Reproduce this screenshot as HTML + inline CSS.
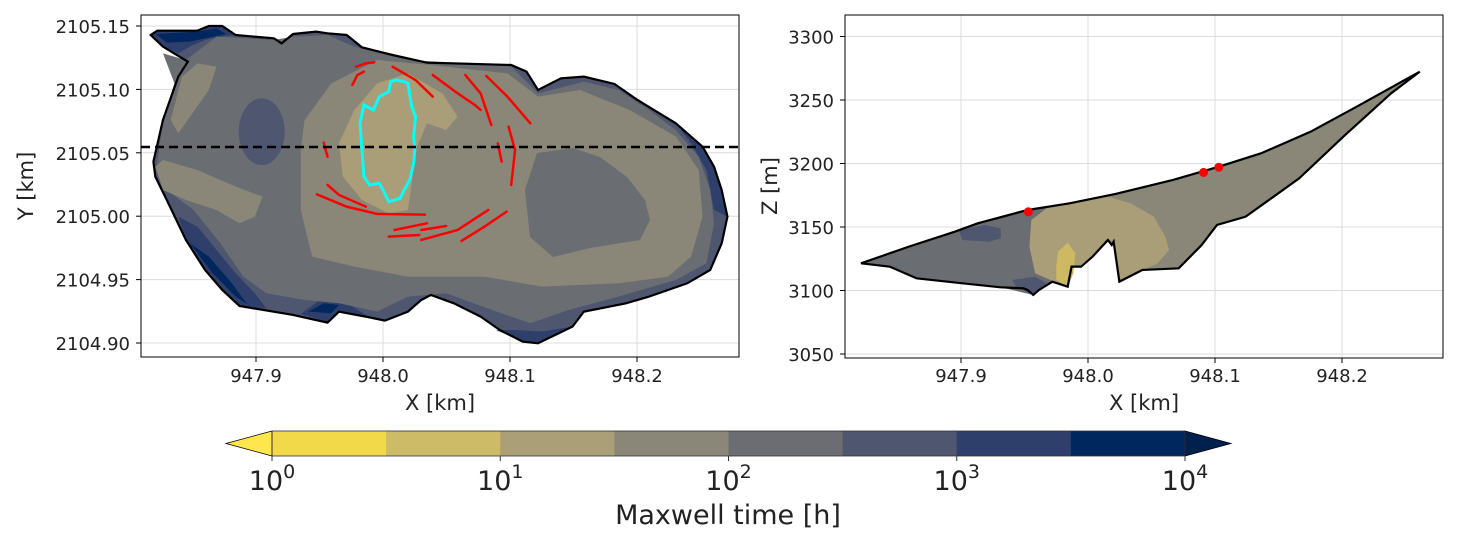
<!DOCTYPE html>
<html><head><meta charset="utf-8"><style>
html,body{margin:0;padding:0;background:#fff;}
svg{display:block;font-family:"DejaVu Sans","Liberation Sans",sans-serif;}
</style></head><body>
<svg id="fig" width="1460" height="543" viewBox="0 0 1460 543" xmlns="http://www.w3.org/2000/svg">
<defs>
<clipPath id="clipL"><rect x="141" y="15" width="598" height="342"/></clipPath>
<clipPath id="clipR"><rect x="845" y="15" width="598" height="343"/></clipPath>
</defs>
<g id="gridL"></g>
<g id="gridR"></g>

<g clip-path="url(#clipL)">
<g transform="translate(140,10) scale(0.3827,0.3333)">
<polygon fill="#4f5670" points="28,75 45,62 150,62 180,48 215,48 250,75 350,85 370,100 400,72 460,65 490,70 540,75 580,112 660,135 750,158 970,165 1010,185 1040,240 1100,205 1160,200 1240,222 1300,270 1400,340 1470,410 1500,470 1520,540 1535,620 1520,700 1490,780 1430,820 1330,860 1270,880 1160,905 1130,950 1040,1000 1000,995 940,960 890,920 820,880 760,855 735,870 700,905 640,932 590,920 520,905 490,938 400,915 260,888 215,840 170,780 120,690 70,570 40,500 35,455 60,330 100,200 125,155 60,110"/>
<polygon fill="#2f3f6c" points="120,690 170,780 215,840 260,888 330,895 300,850 250,790 200,720 150,650 100,620"/>
<polygon fill="#2f3f6c" points="28,75 45,62 150,62 180,48 215,48 250,75 210,80 170,90 130,110 100,130 60,110"/>
<polygon fill="#2f3f6c" points="1400,340 1470,410 1500,470 1520,540 1535,620 1500,600 1480,480 1440,400"/>
<polygon fill="#2f3f6c" points="930,960 1000,995 1040,1000 1130,950 1050,965 980,960"/>
<polygon fill="#2f3f6c" points="420,912 470,870 530,870 590,915 520,905 490,935"/>
<polygon fill="#00285f" points="130,700 190,790 250,860 280,882 240,820 180,740"/>
<polygon fill="#00285f" points="40,72 150,65 200,55 225,72 130,95 70,98"/>
<polygon fill="#00285f" points="440,905 480,880 520,885 500,910"/>
<polygon fill="#6a6d72" points="60,130 120,150 200,80 350,90 400,80 490,75 560,110 700,150 970,170 1040,250 1160,215 1250,240 1330,300 1400,360 1460,440 1490,540 1500,640 1480,760 1400,810 1250,860 1120,900 1020,940 920,900 800,850 700,860 620,905 520,880 430,870 330,850 270,800 210,700 140,600 70,540 45,460 60,330 90,220"/>
<ellipse fill="#4f5670" cx="318" cy="365" rx="60" ry="100"/>
<polygon fill="#8a8779" points="110,200 150,160 200,170 180,240 100,370 80,330"/>
<polygon fill="#8a8779" points="40,470 60,450 150,480 250,530 320,560 300,620 260,640 200,600 120,570 60,540"/>
<polygon fill="#8a8779" points="430,330 500,220 620,150 760,165 960,190 1040,260 1150,240 1280,300 1400,380 1460,480 1470,620 1440,740 1380,800 1250,820 1050,830 900,800 700,800 560,770 450,740 420,600 420,420"/>
<polygon fill="#a99e78" points="520,400 560,300 620,220 700,190 790,250 830,320 800,360 750,340 720,420 710,520 700,600 650,610 580,570 530,500"/>
<g fill="none" stroke="#ff0000" stroke-width="2.5" stroke-linecap="round">
<polyline vector-effect="non-scaling-stroke" points="555,225 568,195 585,185"/>
<polyline vector-effect="non-scaling-stroke" points="565,170 590,160 612,157"/>
<polyline vector-effect="non-scaling-stroke" points="660,170 720,210 765,260"/>
<polyline vector-effect="non-scaling-stroke" points="765,195 830,250 875,285 890,300"/>
<polyline vector-effect="non-scaling-stroke" points="850,195 890,250 918,345"/>
<polyline vector-effect="non-scaling-stroke" points="905,198 960,260 1020,340"/>
<polyline vector-effect="non-scaling-stroke" points="963,350 980,420 970,525"/>
<polyline vector-effect="non-scaling-stroke" points="935,400 945,455"/>
<polyline vector-effect="non-scaling-stroke" points="480,398 490,440"/>
<polyline vector-effect="non-scaling-stroke" points="490,525 520,555 590,590"/>
<polyline vector-effect="non-scaling-stroke" points="462,553 540,590 620,612 745,614"/>
<polyline vector-effect="non-scaling-stroke" points="665,660 750,640"/>
<polyline vector-effect="non-scaling-stroke" points="650,680 730,675"/>
<polyline vector-effect="non-scaling-stroke" points="735,660 800,648"/>
<polyline vector-effect="non-scaling-stroke" points="735,690 830,660 910,600"/>
<polyline vector-effect="non-scaling-stroke" points="840,693 900,650 958,605"/>
</g>
<polygon fill="none" stroke="#00ffff" stroke-width="3" vector-effect="non-scaling-stroke" points="585,285 610,300 625,260 650,245 655,215 670,210 690,215 700,220 710,290 720,320 715,380 718,420 715,460 705,510 690,540 680,565 650,575 635,540 625,520 600,525 585,500 580,420 575,340"/>
<polygon fill="none" stroke="#000" stroke-width="2.2" vector-effect="non-scaling-stroke" points="28,75 45,62 150,62 180,48 215,48 250,75 350,85 370,100 400,72 460,65 490,70 540,75 580,112 660,135 750,158 970,165 1010,185 1040,240 1100,205 1160,200 1240,222 1300,270 1400,340 1470,410 1500,470 1520,540 1535,620 1520,700 1490,780 1430,820 1330,860 1270,880 1160,905 1130,950 1040,1000 1000,995 940,960 890,920 820,880 760,855 735,870 700,905 640,932 590,920 520,905 490,938 400,915 260,888 215,840 170,780 120,690 70,570 40,500 35,455 60,330 100,200 125,155 60,110"/>
</g>
<polygon fill="#6a6d72" points="525,190 537,153 573,148 600,157 627,177 645,200 650,220 640,240 590,248 553,257 530,237"/>
<line x1="141" y1="147" x2="739" y2="147" stroke="#000" stroke-width="2.5" stroke-dasharray="9,5"/>
</g>

<g clip-path="url(#clipR)">
<g transform="translate(840,60) scale(0.3827,0.3333)">
<polygon fill="#8a8779" points="55,610 180,560 300,515 360,490 490,450 600,430 720,402 870,360 990,320 1100,280 1230,215 1350,140 1515,35 1440,100 1320,225 1200,355 1060,470 985,495 945,555 885,625 790,630 730,665 715,545 710,555 700,540 660,590 630,620 605,620 595,680 555,665 520,690 505,705 490,690 480,685 420,682 320,670 200,655 130,620"/>
<polygon fill="#6a6d72" points="55,610 180,560 300,515 360,490 490,450 540,445 500,480 495,560 510,640 560,665 520,690 505,705 420,682 320,670 200,655 130,620"/>
<polygon fill="#a99e78" points="500,480 540,445 700,410 760,430 820,470 850,530 860,570 830,610 790,630 730,665 715,545 700,540 660,590 630,620 605,620 595,680 560,665 510,640 495,560"/>
<polygon fill="#cdb863" points="570,575 595,548 615,580 610,640 595,680 565,660 565,620"/>
<polygon fill="#4f5670" points="310,510 380,495 420,505 420,535 390,545 320,540"/>
<polygon fill="#4f5670" points="450,660 510,650 540,670 505,705 460,680"/>
<polygon fill="none" stroke="#000" stroke-width="2.2" vector-effect="non-scaling-stroke" points="55,610 180,560 300,515 360,490 490,450 600,430 720,402 870,360 990,320 1100,280 1230,215 1350,140 1515,35 1440,100 1320,225 1200,355 1060,470 985,495 945,555 885,625 790,630 730,665 715,545 710,555 700,540 660,590 630,620 605,620 595,680 555,665 520,690 505,705 490,690 480,685 420,682 320,670 200,655 130,620"/>
</g>
<g id="dots"></g>
</g>

<rect x="141" y="15" width="598" height="342" fill="none" stroke="#000" stroke-width="1"/>
<rect x="845" y="15" width="598" height="343" fill="none" stroke="#000" stroke-width="1"/>
<g id="ticks" font-size="18" fill="#222"></g>

<text x="440" y="410" font-size="21" text-anchor="middle" fill="#222">X [km]</text>
<text transform="translate(33,186) rotate(-90)" font-size="21" text-anchor="middle" fill="#222">Y [km]</text>
<text x="1144" y="410" font-size="21" text-anchor="middle" fill="#222">X [km]</text>
<text transform="translate(777,186) rotate(-90)" font-size="21" text-anchor="middle" fill="#222">Z [m]</text>

<g id="cbar"></g>
<text x="728" y="524" font-size="27" text-anchor="middle" fill="#222">Maxwell time [h]</text>
</svg>
<script>
const NS="http://www.w3.org/2000/svg";
const leftXTicks=[947.9,948.0,948.1,948.2];
const leftYTicks=[2105.15,2105.10,2105.05,2105.00,2104.95,2104.90];
const rightXTicks=[947.9,948.0,948.1,948.2];
const rightYTicks=[3300,3250,3200,3150,3100,3050];
const dotX=[947.953,948.091,948.103];
const dotZ=[3162,3193,3197];
const cbarExponents=[0,1,2,3,4];
const cbarColors=["#f2d94a","#cdbb68","#aa9f76","#8a8779","#6b6d72","#4f566f","#2f3f6b","#00285f"];
const cbarMin=0, cbarMax=4;

const lx=v=>256+(v-947.9)*1270;
const ly=v=>26+(2105.15-v)*1268;
const rx=v=>961+(v-947.9)*1270;
const rz=v=>36.5+(3300-v)*1.27;
const cx=v=>272+(v-cbarMin)/(cbarMax-cbarMin)*913;

function mk(tag,attrs,parent){const e=document.createElementNS(NS,tag);for(const k in attrs)e.setAttribute(k,attrs[k]);parent.appendChild(e);return e;}
const gL=document.getElementById('gridL'),gR=document.getElementById('gridR'),tk=document.getElementById('ticks');
leftXTicks.forEach(v=>{const x=lx(v);
 const l=mk('line',{x1:x,x2:x,y1:15,y2:357,stroke:'#dcdcdc','stroke-width':1},gL);
 
 
 mk('line',{x1:x,x2:x,y1:357,y2:362,stroke:'#000'},tk);
 const t=mk('text',{x:x,y:382,'text-anchor':'middle'},tk);t.textContent=v.toFixed(1);
 
 });
leftYTicks.forEach(v=>{const y=ly(v);
 const l=mk('line',{x1:141,x2:739,y1:y,y2:y,stroke:'#dcdcdc','stroke-width':1},gL);
 
 
 mk('line',{x1:136,x2:141,y1:y,y2:y,stroke:'#000'},tk);
 const t=mk('text',{x:130,y:y+7,'text-anchor':'end'},tk);t.textContent=v.toFixed(2);
 
 });
rightXTicks.forEach(v=>{const x=rx(v);
 const l=mk('line',{x1:x,x2:x,y1:15,y2:358,stroke:'#dcdcdc','stroke-width':1},gR);
 
 
 mk('line',{x1:x,x2:x,y1:358,y2:363,stroke:'#000'},tk);
 const t=mk('text',{x:x,y:382,'text-anchor':'middle'},tk);t.textContent=v.toFixed(1);
 
 });
rightYTicks.forEach(v=>{const y=rz(v);
 const l=mk('line',{x1:845,x2:1443,y1:y,y2:y,stroke:'#dcdcdc','stroke-width':1},gR);
 
 
 mk('line',{x1:840,x2:845,y1:y,y2:y,stroke:'#000'},tk);
 const t=mk('text',{x:834,y:y+7,'text-anchor':'end'},tk);t.textContent=String(v);
 
 });
const dg=document.getElementById('dots');
dotX.forEach((v,i)=>{const c=mk('circle',{cx:rx(v),cy:rz(dotZ[i]),r:4.5,fill:'#ff0000'},dg);
 
 });
const cb=document.getElementById('cbar');
const step=(cbarMax-cbarMin)/cbarColors.length;
cbarColors.forEach((col,i)=>{const x0=cx(cbarMin+i*step),x1=cx(cbarMin+(i+1)*step);
 const r=mk('rect',{x:x0,y:431,width:x1-x0+0.5,height:25,fill:col},cb);
 
 });
const tl=mk('polygon',{points:`${cx(cbarMin)},431 ${cx(cbarMin)-46},443.5 ${cx(cbarMin)},456`,fill:'#fde74c',stroke:'#000','stroke-width':0.8},cb);


const tr=mk('polygon',{points:`${cx(cbarMax)},431 ${cx(cbarMax)+46},443.5 ${cx(cbarMax)},456`,fill:'#00204d',stroke:'#000','stroke-width':0.8},cb);


mk('rect',{x:cx(cbarMin),y:431,width:cx(cbarMax)-cx(cbarMin),height:25,fill:'none',stroke:'#333','stroke-width':0.8},cb);
cbarExponents.forEach(e=>{const x=cx(e);
 mk('line',{x1:x,x2:x,y1:456,y2:461,stroke:'#333'},cb);
 const t=mk('text',{x:x,y:490,'text-anchor':'middle','font-size':27,fill:'#222'},cb);
 
 
 const a=document.createElementNS(NS,'tspan');a.textContent='10';t.appendChild(a);
 const b=document.createElementNS(NS,'tspan');b.setAttribute('dy','-12');b.setAttribute('font-size','19');b.textContent=String(e);t.appendChild(b);});
</script>
</body></html>
